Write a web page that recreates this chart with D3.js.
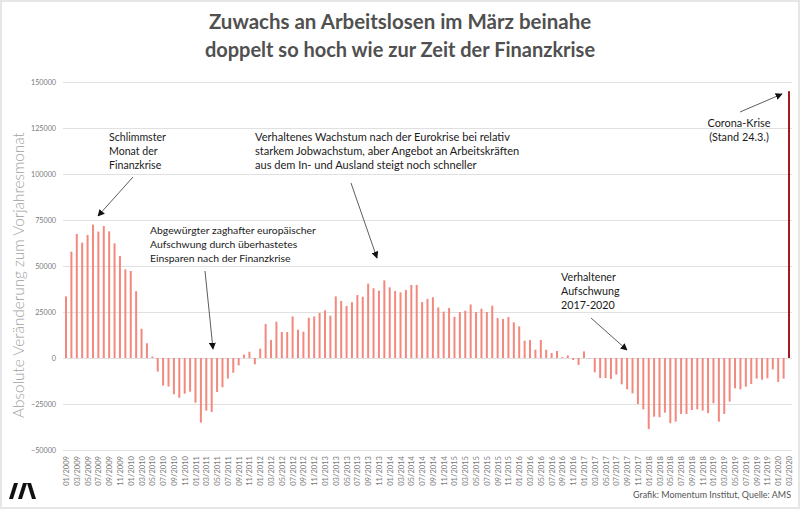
<!DOCTYPE html>
<html><head><meta charset="utf-8">
<script src="https://cdn.jsdelivr.net/npm/d3@7"></script>
<style>
html,body{margin:0;padding:0;background:#fff;}
svg{display:block;font-family:Lato,"Open Sans",sans-serif;}
</style></head>
<body><svg id="c" width="800" height="509"></svg>
<script>
// ---- DATA ----
const years = [2009,2010,2011,2012,2013,2014,2015,2016,2017,2018,2019,2020];
const values2009 = [33500,57800,67400,62700,66900,72500,68700,71700,68800,62300,55400,48200];
const values2010 = [47300,36300,15900,8000,800,-7400,-15000,-15500,-19700,-21600,-19400,-18300];
const values2011 = [-24300,-35100,-28600,-29300,-18500,-15900,-11200,-8000,-4000,1800,3400,-3400];
const values2012 = [5100,18500,9800,19700,14100,14100,22600,15400,14300,21900,22600,24500];
const values2013 = [25900,23000,33500,31000,28300,30300,34200,33300,40400,37900,36600,42200];
const values2014 = [38400,36400,35700,37000,39700,39700,30400,32100,33000,27500,25200,27200];
const values2015 = [22400,25000,25700,29100,25000,26800,25000,28400,21700,21200,22300,19400];
const values2016 = [17200,9400,9800,4500,9800,4500,2700,3800,500,1400,-1100,-3800];
const values2017 = [3600,-300,-7800,-10900,-10900,-11400,-9000,-14300,-17000,-19200,-25000,-27900];
const values2018 = [-38600,-31900,-32200,-29700,-35500,-34600,-30400,-30400,-28300,-27900,-28600,-30000];
const values2019 = [-24600,-34600,-30400,-23700,-16500,-17000,-15600,-14100,-11200,-11800,-11000,-6200];
const values2020 = [-13000,-11200,145000];
const yTicks = [-50000,-25000,0,25000,50000,75000,100000,125000,150000];
const titleLines = ["Zuwachs an Arbeitslosen im März beinahe","doppelt so hoch wie zur Zeit der Finanzkrise"];
const yLabel = "Absolute Veränderung zum Vorjahresmonat";
const source = "Grafik: Momentum Institut, Quelle: AMS";

const allValues = [].concat(values2009,values2010,values2011,values2012,values2013,values2014,
  values2015,values2016,values2017,values2018,values2019,values2020);
const months = [];
years.forEach(y => { for (let m=1;m<=12;m++){ if (months.length < allValues.length) months.push(String(m).padStart(2,"0")+"/"+y); } });
const data = months.map((m,i)=>({month:m, value:allValues[i], highlight: i===allValues.length-1}));
const xTickLabels = months.filter((m,i)=>i%2===0);

// ---- CHART ----
const svg = d3.select("#c");
svg.append("rect").attr("x",1).attr("y",1).attr("width",798).attr("height",507)
  .attr("fill","#fff").attr("stroke","#e6e6e6").attr("stroke-width",2);

const x = d3.scalePoint().domain(months).range([66,789]);
const y = d3.scaleLinear().domain([-50000,150000]).range([450,82]);

function fitFont(sel, target){
  let fs = parseFloat(sel.attr("font-size"));
  for (let k=0;k<4;k++){
    const w = sel.node().getComputedTextLength();
    if (!w) break;
    fs = fs*target/w; sel.attr("font-size",fs);
  }
}

// gridlines + y labels
const yAxis = d3.axisLeft(y).tickValues(yTicks).tickSize(-(792-63)).tickFormat(d3.format("d")).tickPadding(7);
const gy = svg.append("g").attr("transform","translate(63,0)").call(yAxis);
gy.select(".domain").remove();
gy.selectAll(".tick line").attr("stroke","#e0e0e0").attr("stroke-width",1);
gy.selectAll(".tick text").attr("fill","#7a7a7a").attr("font-size",7.2).attr("font-family","Lato, sans-serif");

// x axis labels
const xAxis = d3.axisBottom(x).tickValues(xTickLabels).tickSize(0);
const gx = svg.append("g").attr("transform","translate(0,450)").call(xAxis);
gx.select(".domain").remove();
gx.selectAll(".tick text")
  .attr("transform","rotate(-90)")
  .attr("text-anchor","end")
  .attr("x",-6).attr("y",0).attr("dy","0.33em")
  .attr("fill","#7a7a7a").attr("font-size",7.6).attr("font-family","Lato, sans-serif");

// bars
svg.append("g").selectAll("rect").data(data).join("rect")
  .attr("x", d => x(d.month)-1)
  .attr("width", 2)
  .attr("y", d => y(Math.max(0,d.value)))
  .attr("height", d => Math.abs(y(d.value)-y(0)))
  .attr("fill", d => d.highlight ? "#a3191f" : "#f3897e");

// title
const tg = svg.append("g");
const t1 = tg.append("text").attr("x",400).attr("y",29).attr("text-anchor","middle")
  .attr("font-size",21).attr("font-weight",700).attr("fill","#505050").text(titleLines[0]);
fitFont(t1, 382);
const t2 = tg.append("text").attr("x",400).attr("y",57).attr("text-anchor","middle")
  .attr("font-size",21).attr("font-weight",700).attr("fill","#505050").text(titleLines[1]);
fitFont(t2, 390);

// y label
const yl = svg.append("text").attr("transform","translate(24,275) rotate(-90)")
  .attr("text-anchor","middle").attr("font-size",14).attr("font-weight",300)
  .attr("fill","#a0a0a0").text(yLabel);
fitFont(yl, 286);

// source
const src = svg.append("text").attr("x",791).attr("y",498).attr("text-anchor","end")
  .attr("font-size",9.5).attr("fill","#555").text(source);
fitFont(src, 158);

// logo
const logo = svg.append("g").attr("fill","#111");
[[9,0],[18,0]].forEach(([lx])=>{
  logo.append("path").attr("d",`M${lx},499 L${lx+5},483 L${lx+9},483 L${lx+4},499 Z`);
});
logo.append("path").attr("d","M27,483 L31,483 L36,499 L32,499 Z");

// annotations
const defs = svg.append("defs");
defs.append("marker").attr("id","ah").attr("viewBox","0 0 10 10").attr("refX",9).attr("refY",5)
  .attr("markerWidth",7).attr("markerHeight",7).attr("orient","auto-start-reverse")
  .attr("markerUnits","userSpaceOnUse")
  .append("path").attr("d","M0,0 L10,5 L0,10 Z").attr("fill","#111");

const notes = [
  {x:109, y:141, anchor:"start", lines:["Schlimmster","Monat der","Finanzkrise"], w:57},
  {x:150, y:234, anchor:"start", lines:["Abgewürgter zaghafter europäischer","Aufschwung durch überhastetes","Einsparen nach der Finanzkrise"], w:166},
  {x:255, y:141, anchor:"start", lines:["Verhaltenes Wachstum nach der Eurokrise bei relativ","starkem Jobwachstum, aber Angebot an Arbeitskräften","aus dem In- und Ausland steigt noch schneller"], w:255},
  {x:561, y:281, anchor:"start", lines:["Verhaltener","Aufschwung","2017-2020"], w:55},
  {x:739, y:127, anchor:"middle", lines:["Corona-Krise","(Stand 24.3.)"], w:63}
];
notes.forEach(n=>{
  const t = svg.append("text").attr("font-size",11.5).attr("fill","#1a1a1a").attr("text-anchor",n.anchor);
  n.lines.forEach((l,i)=> t.append("tspan").attr("x",n.x).attr("y",n.y+i*14).text(l));
  const first = t.select("tspan");
  const w = first.node().getComputedTextLength();
  if (w) t.attr("font-size", 11.5*n.w/w);
});
const arrows = [[133,177,98,216],[205,271,213,349],[351,183,377,258],[591,318,627,350],[740,112,782,94]];
arrows.forEach(a=>{
  svg.append("line").attr("x1",a[0]).attr("y1",a[1]).attr("x2",a[2]).attr("y2",a[3])
    .attr("stroke","#333").attr("stroke-width",0.8).attr("marker-end","url(#ah)");
});
</script></body></html>
